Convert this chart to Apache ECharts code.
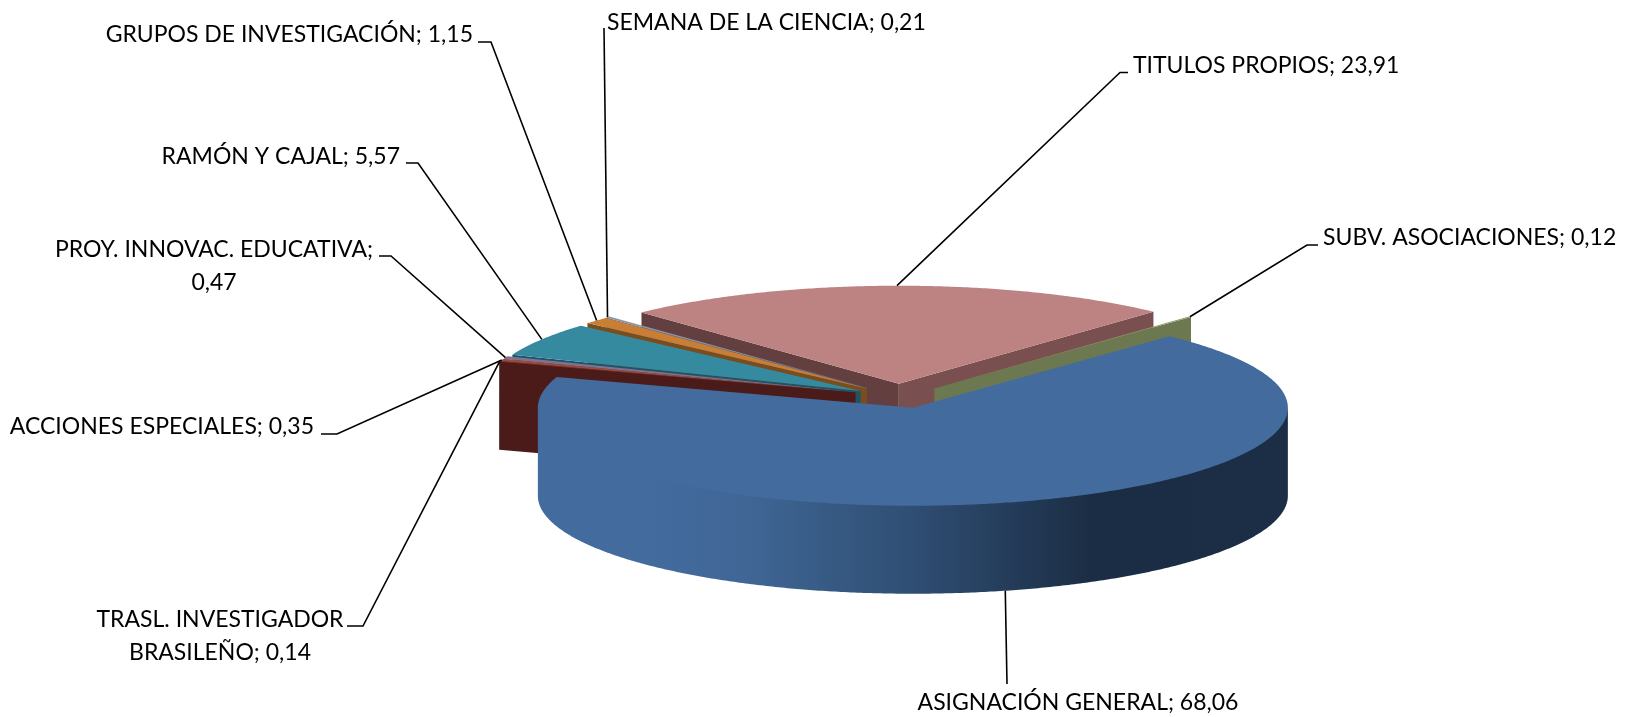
<!DOCTYPE html>
<html>
<head>
<meta charset="utf-8">
<style>html,body{margin:0;padding:0;background:#fff}#c{width:1625px;height:717px}</style>
<script src="https://cdn.jsdelivr.net/npm/echarts@6/dist/echarts.min.js"></script>
</head>
<body>
<div id="c"></div>
<script>
// ---- data (clockwise from the first slice) ----
const categories = ['ASIGNACIÓN GENERAL','TRASL. INVESTIGADOR BRASILEÑO','ACCIONES ESPECIALES','PROY. INNOVAC. EDUCATIVA','RAMÓN Y CAJAL','GRUPOS DE INVESTIGACIÓN','SEMANA DE LA CIENCIA','TITULOS PROPIOS','SUBV. ASOCIACIONES'];
const values = [68.06,0.14,0.35,0.47,5.57,1.15,0.21,23.91,0.12];

// ---- styling ----
const explodeX = [0.15,0.123,0.123,0.123,0.12,0.118,0.125,0.10,0.138];
const explodeY = [0.15,0.03,0.03,0.03,0.05,0.075,0.08,0.10,0.07];
const topColors = ['#436b9e','#7a2c26','#a04a3c','#7f7390','#368a9f','#c87e35','#8a97ab','#bc8382','#8d9a6a'];
const faceColors = ['#1b2e45','#4a1b18','#5a1f1b','#4b4060','#1d5468','#7a4d1e','#5a6578','#633f3f','#6c7850'];
const face2Colors = ['#1b2e45','#4a1b18','#5a1f1b','#4b4060','#1d5468','#7a4d1e','#5a6578','#7a4f4f','#6c7850'];
const paintOrder = [7,8,6,5,4,3,2,1,0];

// ---- projection ----
const CX = 899, CY = 393.5, RX = 375, RY = 98, DEPTH = 88, START = 46.8;
const total = values.reduce((a, b) => a + b, 0);
const rad = d => d * Math.PI / 180;
const slices = [];
values.reduce((acc, v, i) => {
  const a1 = START - acc / total * 360, a2 = a1 - v / total * 360, mid = (a1 + a2) / 2;
  slices[i] = {a1, a2, mid,
    ox: CX + explodeX[i] * RX * Math.cos(rad(mid)),
    oy: CY - explodeY[i] * RY * Math.sin(rad(mid))};
  return acc + v;
}, 0);
const rim = (s, a, z) => [s.ox + RX * Math.cos(rad(a)), s.oy - RY * Math.sin(rad(a)) + (z || 0)];
function arc(s, from, to, z) {
  const n = Math.max(2, Math.ceil(Math.abs(from - to) / 0.5)), pts = [];
  for (let k = 0; k <= n; k++) pts.push(rim(s, from + (to - from) * k / n, z));
  return pts;
}

// ---- label layout: text anchor and leader elbow, per category index ----
const labelLayout = {
  0: {x: 1078, y: 703, align: 'center', elbow: [[1007, 684]]},
  1: {x: 220, y: 636, align: 'center', breakAfter: 'INVESTIGADOR', elbow: [[363, 626], [347, 626]]},
  2: {x: 314, y: 427, align: 'right', elbow: [[337, 434], [321, 434]]},
  3: {x: 214, y: 266, align: 'center', breakAfter: ';', elbow: [[391, 256], [379, 256]]},
  4: {x: 400, y: 157, align: 'right', elbow: [[418, 163], [406, 163]]},
  5: {x: 473, y: 35, align: 'right', elbow: [[491, 42], [478, 42]]},
  6: {x: 607, y: 23, align: 'left', elbow: [[604, 28]]},
  7: {x: 1133, y: 66, align: 'left', elbow: [[1120, 72.5], [1128, 72.5]]},
  8: {x: 1323, y: 238, align: 'left', elbow: [[1307, 245], [1318, 245]]}
};
const rimGradient = new echarts.graphic.LinearGradient(0, 0, 1, 0, [
  {offset: 0, color: '#436b9e'}, {offset: 0.14, color: '#436b9e'}, {offset: 0.28, color: '#3f6695'},
  {offset: 0.5, color: '#2f4e73'}, {offset: 0.74, color: '#1b2d44'}, {offset: 1, color: '#1b2e45'}
]);

function renderSlice(params, api) {
  const i = api.value(0), s = slices[i], children = [];
  const poly = (points, fill) => children.push({type: 'polygon', shape: {points}, style: {fill}, silent: true});
  const cut = a => { const o = [s.ox, s.oy], e = rim(s, a); return [o, e, [e[0], e[1] + DEPTH], [o[0], o[1] + DEPTH]]; };
  if (Math.cos(rad(s.a1)) < 0) poly(cut(s.a1), faceColors[i]);
  if (Math.cos(rad(s.a2)) > 0) poly(cut(s.a2), face2Colors[i]);
  const hi = Math.min(s.a1, 0), lo = Math.max(s.a2, -180);
  if (hi > lo) poly(arc(s, hi, lo, -3).concat(arc(s, lo, hi, DEPTH)), rimGradient);
  poly([[s.ox, s.oy]].concat(arc(s, s.a1, s.a2)), topColors[i]);
  return {type: 'group', children};
}

function renderLabel(params, api) {
  const i = api.value(0), s = slices[i], L = labelLayout[i];
  const raw = categories[i] + '; ' + values[i].toFixed(2).replace('.', ',');
  const text = L.breakAfter ? raw.replace(L.breakAfter + ' ', L.breakAfter + '\n') : raw;
  const anchor = rim(s, s.mid, Math.sin(rad(s.mid)) < 0 ? DEPTH : 0);
  return {type: 'group', children: [
    {type: 'polyline', shape: {points: [anchor].concat(L.elbow)}, style: {stroke: '#000', lineWidth: 1.6, fill: 'none'}, silent: true},
    {type: 'text', x: L.x, y: L.y, silent: true, style: {
      text, fill: '#000', font: '23px Lato', align: L.align, verticalAlign: 'middle', lineHeight: 33
    }}
  ]};
}

const chart = echarts.init(document.getElementById('c'), null, {renderer: 'canvas'});
chart.setOption({
  animation: false,
  backgroundColor: '#fff',
  series: [
    {type: 'custom', coordinateSystem: 'none', silent: true, renderItem: renderSlice, data: paintOrder.map(i => [i]), z: 2},
    {type: 'custom', coordinateSystem: 'none', silent: true, renderItem: renderLabel, data: categories.map((c, i) => [i]), z: 3}
  ]
});
</script>
</body>
</html>
